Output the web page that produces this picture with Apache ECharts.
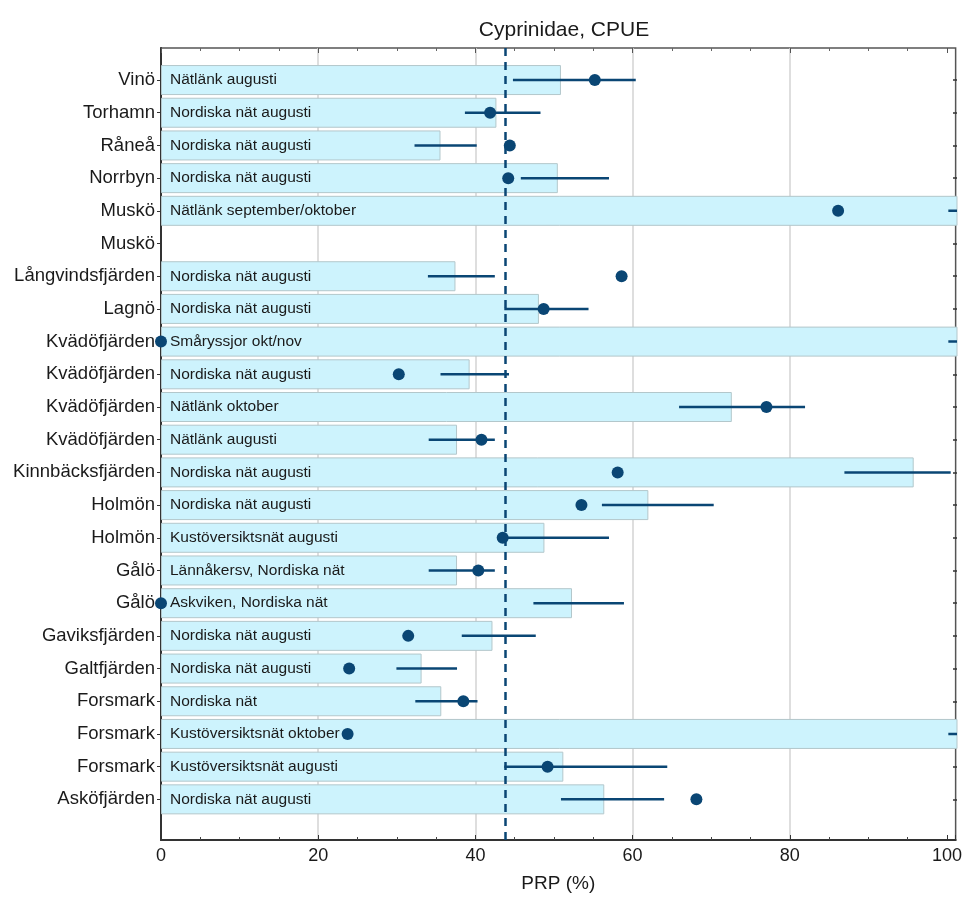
<!DOCTYPE html>
<html>
<head>
<meta charset="utf-8">
<title>Cyprinidae, CPUE</title>
<script src="https://cdn.jsdelivr.net/npm/echarts@6/dist/echarts.min.js"></script>
<style>
  html, body { margin: 0; padding: 0; background: #ffffff; }
  #chart { width: 965px; height: 898px; }
</style>
</head>
<body>
<div id="chart"></div>
<script>
// Sites, listed top to bottom
const sites = ['Vinö', 'Torhamn', 'Råneå', 'Norrbyn', 'Muskö', 'Muskö', 'Långvindsfjärden', 'Lagnö',
  'Kvädöfjärden', 'Kvädöfjärden', 'Kvädöfjärden', 'Kvädöfjärden', 'Kinnbäcksfjärden', 'Holmön', 'Holmön',
  'Gålö', 'Gålö', 'Gaviksfjärden', 'Galtfjärden', 'Forsmark', 'Forsmark', 'Forsmark', 'Asköfjärden'];

// Survey method written inside each bar
const methods = ['Nätlänk augusti', 'Nordiska nät augusti', 'Nordiska nät augusti', 'Nordiska nät augusti',
  'Nätlänk september/oktober', '', 'Nordiska nät augusti', 'Nordiska nät augusti', 'Småryssjor okt/nov',
  'Nordiska nät augusti', 'Nätlänk oktober', 'Nätlänk augusti', 'Nordiska nät augusti', 'Nordiska nät augusti',
  'Kustöversiktsnät augusti', 'Lännåkersv, Nordiska nät', 'Askviken, Nordiska nät', 'Nordiska nät augusti',
  'Nordiska nät augusti', 'Nordiska nät', 'Kustöversiktsnät oktober', 'Kustöversiktsnät augusti',
  'Nordiska nät augusti'];

// PRP (%) per site: bar value, point estimate and interval bounds
const barValues = [50.8, 42.6, 35.5, 50.4, 110, null, 37.4, 48.0, 110, 39.2, 72.5, 37.6, 95.6, 61.9, 48.7,
  37.6, 52.2, 42.1, 33.1, 35.6, 110, 51.1, 56.3];
const pointValues = [55.1, 41.8, 44.3, 44.1, 86.0, null, 58.5, 48.6, 0, 30.2, 76.9, 40.7, 58.0, 53.4, 43.4,
  40.3, 0, 31.4, 23.9, 38.4, 23.7, 49.1, 68.0];
const errLow = [44.7, 38.6, 32.2, 45.7, 100, null, 33.9, 43.6, 100, 35.5, 65.8, 34.0, 86.8, 56.0, 43.6,
  34.0, 47.3, 38.2, 29.9, 32.3, 100, 43.6, 50.8];
const errHigh = [60.3, 48.2, 40.1, 56.9, 110, null, 42.4, 54.3, 110, 44.2, 81.8, 42.4, 100.3, 70.2, 56.9,
  42.4, 58.8, 47.6, 37.6, 40.2, 110, 64.3, 63.9];

// Reference level (dashed line)
const referenceLevel = 43.8;

// Axis tick labels and the vertical grid lines
const xTicks = [0, 20, 40, 60, 80, 100];
const xGridLines = [20, 40, 60, 80];

const X_MAX = 101.1;
const DARK = '#0a4674';
const TEXT = '#1a1a1a';
const FONT = '"Liberation Sans", Arial, sans-serif';

const chart = echarts.init(document.getElementById('chart'), null, { renderer: 'canvas' });

const barData = barValues.map(v => (v == null ? '-' : v));
const pointData = [];
pointValues.forEach((v, i) => { if (v != null) pointData.push([v, i]); });
const errData = [];
errLow.forEach((lo, i) => { if (lo != null) errData.push([lo, errHigh[i], i]); });

const option = {
  animation: false,
  backgroundColor: '#ffffff',
  textStyle: { fontFamily: FONT },
  title: {
    text: 'Cyprinidae, CPUE',
    left: 559,
    top: 15,
    textAlign: 'center',
    textStyle: { fontSize: 21, fontWeight: 'normal', color: TEXT, fontFamily: FONT }
  },
  grid: [
    // frame with the value scale
    { left: 161, right: 8, top: 48, bottom: 54, show: true, borderColor: '#555', borderWidth: 1.5, backgroundColor: 'transparent' },
    // rows for the sites
    { left: 161, right: 8, top: 63.7, bottom: 82.3 }
  ],
  xAxis: [
    {
      gridIndex: 0, type: 'value', position: 'bottom', min: 0, max: X_MAX, interval: 20,
      name: 'PRP (%)', nameLocation: 'middle', nameGap: 34,
      nameTextStyle: { fontSize: 19, color: TEXT, fontFamily: FONT },
      axisLine: { show: true, lineStyle: { color: '#333', width: 2 } },
      axisTick: { show: true, inside: true, length: 5, lineStyle: { color: '#333', width: 1 } },
      minorTick: { show: true, splitNumber: 4, length: 3, lineStyle: { color: '#444', width: 1 } },
      axisLabel: {
        fontSize: 18, color: TEXT, margin: 7, fontFamily: FONT,
        formatter: v => (xTicks.indexOf(Math.round(v * 10) / 10) >= 0 ? String(v) : '')
      },
      splitLine: { show: false }
    },
    {
      gridIndex: 0, type: 'value', position: 'top', min: 0, max: X_MAX, interval: 20,
      axisLine: { show: false },
      axisTick: { show: true, inside: true, length: 5, lineStyle: { color: '#555', width: 1 } },
      minorTick: { show: true, splitNumber: 4, length: 3, lineStyle: { color: '#666', width: 1 } },
      axisLabel: { show: false },
      splitLine: { show: false }
    },
    {
      gridIndex: 1, type: 'value', min: 0, max: X_MAX, interval: 20, show: false,
      splitLine: { show: false }
    }
  ],
  yAxis: [
    {
      gridIndex: 0, type: 'value', min: 0, max: 1, position: 'left',
      axisLine: { show: true, lineStyle: { color: '#333', width: 2 } },
      axisTick: { show: false }, axisLabel: { show: false }, splitLine: { show: false }
    },
    {
      gridIndex: 1, type: 'category', data: sites, inverse: true, position: 'left',
      axisLine: { show: false },
      axisTick: { show: true, alignWithLabel: true, length: 4, lineStyle: { color: '#333', width: 1 } },
      axisLabel: { fontSize: 18.5, color: TEXT, margin: 6, fontFamily: FONT, interval: 0 },
      splitLine: { show: false }
    },
    {
      gridIndex: 1, type: 'category', data: sites, inverse: true, position: 'right',
      axisLine: { show: false },
      axisTick: { show: true, inside: true, alignWithLabel: true, length: 4, lineStyle: { color: '#333', width: 1.5 } },
      axisLabel: { show: false },
      splitLine: { show: false }
    }
  ],
  series: [
    {
      // vertical grid lines, behind the bars
      type: 'line', xAxisIndex: 0, yAxisIndex: 0, data: [], silent: true, z: 0,
      markLine: {
        z: 0, silent: true, symbol: 'none', label: { show: false },
        lineStyle: { color: '#d3d3d3', width: 1.5, type: 'solid' },
        data: xGridLines.map(v => ({ xAxis: v }))
      }
    },
    {
      // reference level
      type: 'line', xAxisIndex: 0, yAxisIndex: 0, data: [], silent: true, z: 5,
      markLine: {
        z: 5, silent: true, symbol: 'none', label: { show: false },
        lineStyle: { color: DARK, width: 2.5, type: [8, 6] },
        data: [{ xAxis: referenceLevel }]
      }
    },
    {
      type: 'bar', xAxisIndex: 2, yAxisIndex: 1, data: barData, barWidth: 30, clip: true,
      itemStyle: { color: '#cdf3fd', borderColor: '#b3c7cb', borderWidth: 1 },
      label: {
        show: true, position: 'insideLeft', distance: 9,
        formatter: p => methods[p.dataIndex],
        fontSize: 15.5, color: TEXT, fontFamily: FONT
      },
      silent: true, z: 2
    },
    {
      type: 'custom', xAxisIndex: 2, yAxisIndex: 1, data: errData, clip: true,
      encode: { x: [0, 1], y: 2 },
      renderItem: (params, api) => {
        const a = api.coord([api.value(0), api.value(2)]);
        const b = api.coord([api.value(1), api.value(2)]);
        return {
          type: 'line',
          shape: { x1: a[0], y1: a[1], x2: b[0], y2: b[1] },
          style: { stroke: DARK, lineWidth: 2.5 }
        };
      },
      silent: true, z: 6
    },
    {
      type: 'scatter', xAxisIndex: 2, yAxisIndex: 1, data: pointData, clip: false,
      symbol: 'circle', symbolSize: 12,
      itemStyle: { color: DARK, opacity: 1 },
      silent: true, z: 7
    }
  ]
};

chart.setOption(option);
</script>
</body>
</html>
